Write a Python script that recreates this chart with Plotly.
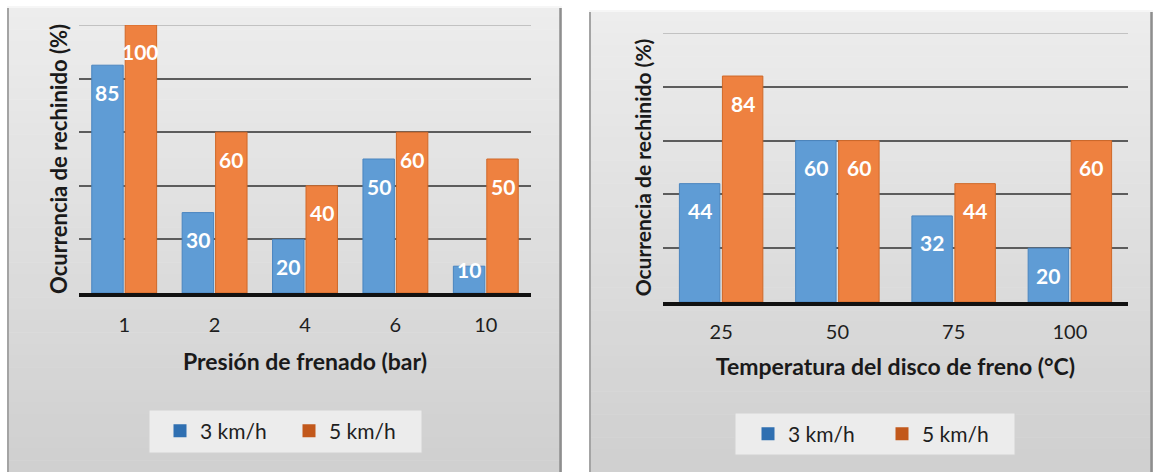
import numpy as np
import plotly.graph_objects as go

# ---- data ----
pres_cats = ["1", "2", "4", "6", "10"]
pres_3kmh = [85, 30, 20, 50, 10]
pres_5kmh = [100, 60, 40, 60, 50]

temp_cats = ["25", "50", "75", "100"]
temp_3kmh = [44, 60, 32, 20]
temp_5kmh = [84, 60, 44, 60]

series_names = ["3 km/h", "5 km/h"]
y_ticks = [0, 20, 40, 60, 80, 100]

# ---- style ----
W, H = 1153, 472
BLUE, BLUE_EDGE, BLUE_KEY = "#5f9cd5", "#4a85bf", "#2f6fb1"
ORANGE, ORANGE_EDGE, ORANGE_KEY = "#ee8140", "#cf6828", "#c2581b"
FONT = "Lato"
BARGAP = 0.26

fig = go.Figure()


def px_x(v):
    return v / W


def px_y(v):
    return 1 - v / H


panels = [
    dict(cats=pres_cats, a=pres_3kmh, b=pres_5kmh, xa="x", ya="y", leg="legend",
         xdom=[px_x(79), px_x(531)], ydom=[px_y(293), px_y(25)],
         xtitle="Presión de frenado (bar)", box=(7, 6, 562, 472),
         lbox=(149, 410, 422, 453), ytitle_size=22, tick_pad=11, title_pad=20),
    dict(cats=temp_cats, a=temp_3kmh, b=temp_5kmh, xa="x2", ya="y2", leg="legend2",
         xdom=[px_x(663), px_x(1128)], ydom=[px_y(302), px_y(33)],
         xtitle="Temperatura del disco de freno (°C)", box=(589, 10, 1153, 472),
         lbox=(735, 413, 1015, 455), ytitle_size=21, tick_pad=9, title_pad=18),
]

shapes = []
annotations = []

# gradient panel backgrounds built from thin strips
top_c = np.array([237, 237, 237])
bot_c = np.array([208, 208, 208])
for p in panels:
    x0, y0, x1, y1 = p["box"]
    n = 40
    for i in range(n):
        t = i / (n - 1)
        c = (top_c * (1 - t) + bot_c * t).astype(int)
        ya0 = y0 + (y1 - y0) * i / n
        ya1 = y0 + (y1 - y0) * (i + 1) / n + 0.5
        shapes.append(dict(type="rect", xref="paper", yref="paper", layer="below",
                           x0=px_x(x0), x1=px_x(x1), y0=px_y(ya1), y1=px_y(ya0),
                           line=dict(width=0), fillcolor=f"rgb({c[0]},{c[1]},{c[2]})"))
    # panel edges
    shapes.append(dict(type="line", xref="paper", yref="paper", layer="below",
                       x0=px_x(x1 - 1.5), x1=px_x(x1 - 1.5), y0=px_y(y1), y1=px_y(y0),
                       line=dict(color="#8e8e8e", width=2.5)))
    shapes.append(dict(type="line", xref="paper", yref="paper", layer="below",
                       x0=px_x(x0 + 1), x1=px_x(x0 + 1), y0=px_y(y1), y1=px_y(y0),
                       line=dict(color="#a4a4a4", width=2)))
    shapes.append(dict(type="line", xref="paper", yref="paper", layer="below",
                       x0=px_x(x0), x1=px_x(x1), y0=px_y(y0 + 1), y1=px_y(y0 + 1),
                       line=dict(color="#f6f6f6", width=2)))
    # legend frame
    lx0, ly0, lx1, ly1 = p["lbox"]
    shapes.append(dict(type="rect", xref="paper", yref="paper", layer="below",
                       x0=px_x(lx0), x1=px_x(lx1), y0=px_y(ly1), y1=px_y(ly0),
                       line=dict(color="#d2d2d2", width=1), fillcolor="#ececec"))

    # light top gridline at 100
    shapes.append(dict(type="line", xref=f"{p['xa']} domain", yref=p["ya"], layer="below",
                       x0=0, x1=1, y0=y_ticks[-1], y1=y_ticks[-1],
                       line=dict(color="#c2c2c2", width=2)))

    xs = np.arange(len(p["cats"]))
    off = (1 - BARGAP) / 4
    for vals, name, col, edge, key, sgn in [
        (p["a"], series_names[0], BLUE, BLUE_EDGE, BLUE_KEY, -1),
        (p["b"], series_names[1], ORANGE, ORANGE_EDGE, ORANGE_KEY, 1),
    ]:
        fig.add_trace(go.Bar(x=xs, y=vals, name=name, xaxis=p["xa"], yaxis=p["ya"],
                             marker=dict(color=col, line=dict(color=edge, width=1)),
                             offsetgroup=name, showlegend=False, hoverinfo="skip"))
        fig.add_trace(go.Scatter(x=[None], y=[None], name=name, mode="markers",
                                 xaxis=p["xa"], yaxis=p["ya"], legend=p["leg"],
                                 marker=dict(symbol="square", size=13, color=key)))
        for xi, v in zip(xs, vals):
            annotations.append(dict(x=xi + sgn * off, y=v, xref=p["xa"], yref=p["ya"],
                                    text=f"<b>{v}</b>", showarrow=False,
                                    yanchor="middle", yshift=-27 if v > 15 else -3,
                                    font=dict(family=FONT, size=21, color="white")))

fig.update_layout(shapes=shapes, annotations=annotations)

for k, p in enumerate(panels):
    sfx = "" if k == 0 else "2"
    fig.update_layout(**{
        f"xaxis{sfx}": dict(domain=p["xdom"], anchor=p["ya"],
                            range=[-0.5, len(p["cats"]) - 0.5],
                            tickvals=list(range(len(p["cats"]))), ticktext=p["cats"],
                            showline=True, linecolor="#111111", linewidth=3.5,
                            showgrid=False, zeroline=False, ticks="",
                            ticklabelstandoff=p["tick_pad"],
                            tickfont=dict(family=FONT, size=20, color="#1e1e1e"),
                            title=dict(text=f"<b>{p['xtitle']}</b>", standoff=p["title_pad"],
                                       font=dict(family=FONT, size=23, color="#1a1a1a"))),
        f"yaxis{sfx}": dict(domain=p["ydom"], anchor=p["xa"], range=[0, 100],
                            tickvals=y_ticks[1:-1], showticklabels=False, ticks="",
                            showgrid=True, gridcolor="#5c5c5c", gridwidth=1.8,
                            zeroline=False, showline=False,
                            title=dict(text="<b>Ocurrencia de rechinido (%)</b>", standoff=4,
                                       font=dict(family=FONT, size=p["ytitle_size"],
                                                 color="#1a1a1a"))),
    })

legend_common = dict(orientation="h", bgcolor="rgba(0,0,0,0)", borderwidth=0,
                     font=dict(family=FONT, size=21, color="#1e1e1e"),
                     xanchor="left", yanchor="middle",
                     itemclick=False, itemdoubleclick=False)
fig.update_layout(
    legend=dict(legend_common, x=px_x(160), y=px_y(431), entrywidth=84),
    legend2=dict(legend_common, x=px_x(748), y=px_y(434), entrywidth=89),
    barmode="group", bargap=BARGAP, bargroupgap=0.06,
    width=W, height=H, margin=dict(l=0, r=0, t=0, b=0),
    paper_bgcolor="white", plot_bgcolor="rgba(0,0,0,0)",
    font=dict(family=FONT),
)

fig.write_html("out.html")
